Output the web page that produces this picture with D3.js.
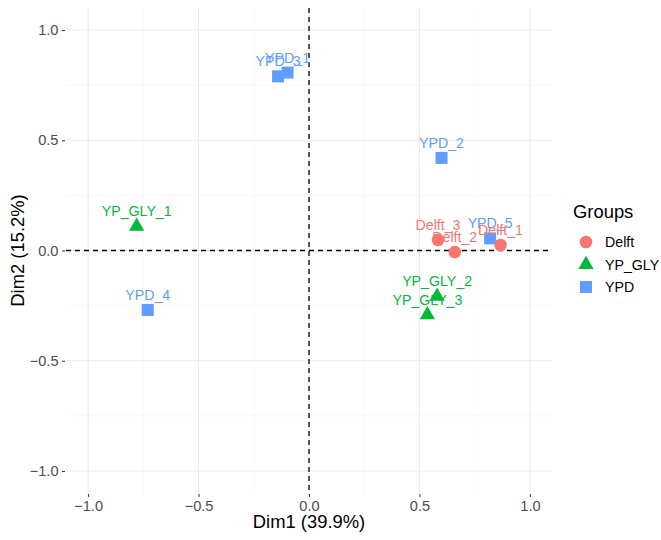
<!DOCTYPE html>
<html>
<head>
<meta charset="utf-8">
<script src="https://cdn.jsdelivr.net/npm/d3@7"></script>
<style>
  body { margin: 0; background: #fff; }
  text { font-family: "Liberation Sans", Arial, sans-serif; }
</style>
</head>
<body>
<div id="chart"></div>
<script>
// individuals on the first two dimensions
var names  = ["YPD_1", "YPD_2", "YPD_3", "YPD_4", "YPD_5",
              "Delft_1", "Delft_2", "Delft_3",
              "YP_GLY_1", "YP_GLY_2", "YP_GLY_3"];
var groups = ["YPD", "YPD", "YPD", "YPD", "YPD",
              "Delft", "Delft", "Delft",
              "YP_GLY", "YP_GLY", "YP_GLY"];
var dim1   = [-0.097, 0.60, -0.14, -0.73, 0.82, 0.867, 0.66, 0.584, -0.78, 0.58, 0.536];
var dim2   = [0.807, 0.42, 0.79, -0.27, 0.055, 0.025, -0.007, 0.048, 0.11, -0.208, -0.292];

var groupNames = ["Delft", "YP_GLY", "YPD"];
var groupColors = ["#F8766D", "#00BA38", "#619CFF"];
var ticks = [-1.0, -0.5, 0.0, 0.5, 1.0];
var minorTicks = [-0.75, -0.25, 0.25, 0.75];

var width = 661, height = 540;
var pLeft = 66, pRight = 552, pTop = 8, pBottom = 493;

var svg = d3.select("#chart").append("svg")
    .attr("width", width)
    .attr("height", height);

var x = d3.scaleLinear().domain([-1.1, 1.1]).range([pLeft, pRight]);
var y = d3.scaleLinear().domain([-1.1, 1.1]).range([pBottom, pTop]);
var color = d3.scaleOrdinal().domain(groupNames).range(groupColors);
var shape = d3.scaleOrdinal().domain(groupNames)
    .range([d3.symbolCircle, d3.symbolTriangle, d3.symbolSquare]);
var shapeSize = { "Delft": 125, "YP_GLY": 100, "YPD": 144 };

// grid
var grid = svg.append("g");
grid.selectAll(".minx").data(minorTicks).enter().append("line")
    .attr("x1", function(d) { return x(d); }).attr("x2", function(d) { return x(d); })
    .attr("y1", pTop).attr("y2", pBottom)
    .style("stroke", "#F3F3F3").style("stroke-width", 0.6);
grid.selectAll(".miny").data(minorTicks).enter().append("line")
    .attr("y1", function(d) { return y(d); }).attr("y2", function(d) { return y(d); })
    .attr("x1", pLeft).attr("x2", pRight)
    .style("stroke", "#F3F3F3").style("stroke-width", 0.6);
grid.selectAll(".majx").data(ticks).enter().append("line")
    .attr("x1", function(d) { return x(d); }).attr("x2", function(d) { return x(d); })
    .attr("y1", pTop).attr("y2", pBottom)
    .style("stroke", "#EBEBEB").style("stroke-width", 1.1);
grid.selectAll(".majy").data(ticks).enter().append("line")
    .attr("y1", function(d) { return y(d); }).attr("y2", function(d) { return y(d); })
    .attr("x1", pLeft).attr("x2", pRight)
    .style("stroke", "#EBEBEB").style("stroke-width", 1.1);

// axes
var fmt = function(d) { return d3.format(".1f")(d).replace("-", "\u2212"); };
var xAxis = svg.append("g")
    .attr("transform", "translate(0," + (pBottom + 1) + ")")
    .call(d3.axisBottom(x).tickValues(ticks).tickSize(3).tickPadding(4).tickFormat(fmt));
var yAxis = svg.append("g")
    .attr("transform", "translate(" + (pLeft - 1) + ",0)")
    .call(d3.axisLeft(y).tickValues(ticks).tickSize(3).tickPadding(3.5).tickFormat(fmt));
[xAxis, yAxis].forEach(function(a) {
    a.select(".domain").remove();
    a.selectAll(".tick line").style("stroke", "#333333");
    a.selectAll(".tick text").style("fill", "#4D4D4D").style("font-size", "14.6px")
        .style("font-family", "Liberation Sans, Arial, sans-serif");
});

// reference lines
svg.append("line")
    .attr("x1", x(0)).attr("x2", x(0)).attr("y1", pTop).attr("y2", pBottom)
    .style("stroke", "#000").style("stroke-width", 1.3).style("stroke-dasharray", "5,4");
svg.append("line")
    .attr("x1", pLeft).attr("x2", pRight).attr("y1", y(0)).attr("y2", y(0))
    .style("stroke", "#000").style("stroke-width", 1.3).style("stroke-dasharray", "5,4");

// points
var data = names.map(function(n, i) {
    return { name: n, group: groups[i], x: dim1[i], y: dim2[i] };
});

svg.append("g").selectAll("path").data(data).enter().append("path")
    .attr("transform", function(d) { return "translate(" + x(d.x) + "," + y(d.y) + ")"; })
    .attr("d", function(d) { return d3.symbol().type(shape(d.group)).size(shapeSize[d.group])(); })
    .style("fill", function(d) { return color(d.group); });

svg.append("g").selectAll("text").data(data).enter().append("text")
    .attr("x", function(d) { return x(d.x); })
    .attr("y", function(d) { return y(d.y) - 10; })
    .attr("text-anchor", "middle")
    .style("font-size", "14.2px")
    .style("fill", function(d) { return color(d.group); })
    .text(function(d) { return d.name; });

// axis titles
svg.append("text")
    .attr("x", (pLeft + pRight) / 2).attr("y", 528)
    .attr("text-anchor", "middle")
    .style("font-size", "18.4px").style("fill", "#000")
    .text("Dim1 (39.9%)");
svg.append("text")
    .attr("transform", "translate(23.5," + ((pTop + pBottom) / 2) + ") rotate(-90)")
    .attr("text-anchor", "middle")
    .style("font-size", "18.4px").style("fill", "#000")
    .text("Dim2 (15.2%)");

// legend
var legend = svg.append("g").attr("transform", "translate(573,0)");
legend.append("text")
    .attr("x", 0).attr("y", 218)
    .style("font-size", "18.4px").style("fill", "#000")
    .text("Groups");
var items = legend.selectAll(".item").data(groupNames).enter().append("g")
    .attr("transform", function(d, i) { return "translate(0," + (242 + i * 22.5) + ")"; });
items.append("path")
    .attr("transform", "translate(13,0)")
    .attr("d", function(d) { return d3.symbol().type(shape(d)).size(shapeSize[d])(); })
    .style("fill", function(d) { return color(d); });
items.append("text")
    .attr("x", 32).attr("y", 5)
    .style("font-size", "14.2px").style("fill", "#000")
    .text(function(d) { return d; });
</script>
</body>
</html>
